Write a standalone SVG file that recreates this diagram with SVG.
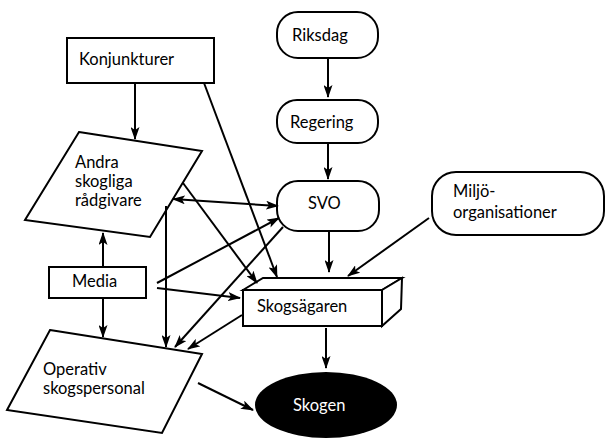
<svg xmlns="http://www.w3.org/2000/svg" width="605" height="439" viewBox="0 0 605 439">
<style>
.s{fill:#fff;stroke:#000;stroke-width:2}
.t{font-family:"Lato","Liberation Sans",sans-serif;font-size:16.5px;fill:#000}
.c line{stroke:#000;stroke-width:2;fill:none}
</style>
<defs>
<marker id="a" markerUnits="userSpaceOnUse" markerWidth="13" markerHeight="9" refX="12" refY="4.5" orient="auto-start-reverse" viewBox="0 0 13 9">
<path d="M0,0 L13,4.5 L0,9 L3,4.5 z" fill="#000"/>
</marker>
</defs>
<rect width="605" height="439" fill="#fff"/>
<g id="konjunkturer"><rect class="s" x="67" y="38" width="147" height="45"/><text class="t" x="79" y="65">Konjunkturer</text></g>
<g id="riksdag"><rect class="s" x="277" y="12" width="101" height="46" rx="21"/><text class="t" x="292" y="41">Riksdag</text></g>
<g id="regering"><rect class="s" x="277" y="100" width="101" height="43" rx="20"/><text class="t" x="290" y="128">Regering</text></g>
<g id="svo"><rect class="s" x="277" y="181" width="102" height="50" rx="21"/><text class="t" x="308" y="209">SVO</text></g>
<g id="miljo"><rect class="s" x="432" y="172" width="172" height="63" rx="24"/><text class="t" x="453" y="197">Miljö-</text><text class="t" x="453" y="218">organisationer</text></g>
<g id="andra"><path class="s" d="M79,132 L202,151 L150,237 L25,220 Z"/><text class="t" x="75" y="168">Andra</text><text class="t" x="75" y="187">skogliga</text><text class="t" x="75" y="206">rådgivare</text></g>
<g id="media"><rect class="s" x="49" y="267" width="97" height="31"/><text class="t" x="72" y="287">Media</text></g>
<g id="operativ"><path class="s" d="M50,330 L202,354 L162,433 L7,410 Z"/><text class="t" x="43" y="375">Operativ</text><text class="t" x="43" y="394">skogspersonal</text></g>
<g id="skogsagaren"><path class="s" d="M243,290 L263,278 L402,278 L382,290 Z"/><path class="s" d="M382,290 L402,278 L401,309 L382,326 Z"/><rect class="s" x="243" y="290" width="139" height="36"/><text class="t" x="257" y="312">Skogsägaren</text></g>
<g id="skogen"><ellipse cx="326" cy="405" rx="71" ry="33" fill="#000"/><text class="t" x="293" y="411" style="fill:#fff">Skogen</text></g>
<g class="c" id="connectors">
<line x1="328" y1="58" x2="328" y2="97" marker-end="url(#a)"/>
<line x1="328" y1="143" x2="328" y2="179" marker-end="url(#a)"/>
<line x1="135" y1="83" x2="135" y2="139" marker-end="url(#a)"/>
<line x1="204" y1="83" x2="277" y2="277" marker-end="url(#a)"/>
<line x1="173" y1="199" x2="278" y2="206" marker-start="url(#a)" marker-end="url(#a)"/>
<line x1="183" y1="183" x2="257" y2="283" marker-end="url(#a)"/>
<line x1="157" y1="283" x2="279" y2="218" marker-end="url(#a)"/>
<line x1="157" y1="288" x2="240" y2="298" marker-end="url(#a)"/>
<line x1="103" y1="267" x2="103" y2="233" marker-end="url(#a)"/>
<line x1="103" y1="298" x2="103" y2="337" marker-end="url(#a)"/>
<line x1="166" y1="206" x2="166" y2="347" marker-end="url(#a)"/>
<line x1="283" y1="227" x2="175" y2="347" marker-end="url(#a)"/>
<line x1="242" y1="315" x2="188" y2="349" marker-end="url(#a)"/>
<line x1="429" y1="218" x2="348" y2="276" marker-end="url(#a)"/>
<line x1="329" y1="231" x2="329" y2="272" marker-end="url(#a)"/>
<line x1="326" y1="328" x2="326" y2="368" marker-end="url(#a)"/>
<line x1="198" y1="383" x2="253" y2="410" marker-end="url(#a)"/>
</g>
</svg>
